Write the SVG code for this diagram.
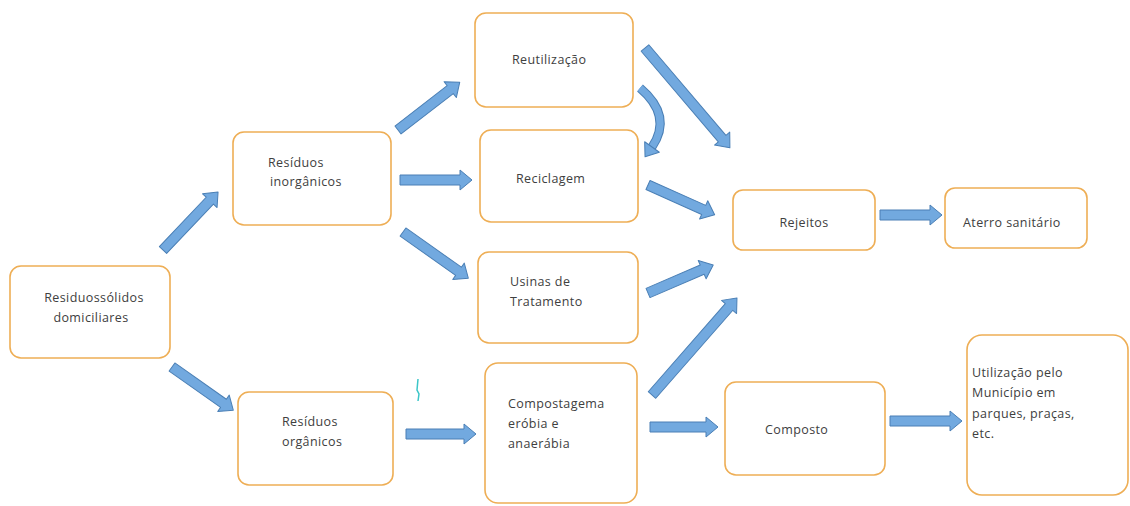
<svg xmlns="http://www.w3.org/2000/svg" width="1130" height="506" viewBox="0 0 1130 506">
  <style>
    .box { fill: #ffffff; stroke: #eeae55; stroke-width: 1.6; }
    .lbl { font-family: "Open Sans", "Liberation Sans", sans-serif; font-size: 12.5px; letter-spacing: 0.4px; fill: #404040; }
    .mid { text-anchor: middle; }
    .arr { fill: #72a9df; stroke: #4a7fb5; stroke-width: 1; stroke-linejoin: round; }
  </style>
  <rect width="1130" height="506" fill="#ffffff"/>

  <g id="n-domiciliares">
    <rect class="box" x="10" y="266" width="160" height="92" rx="11"/>
    <text class="lbl mid" x="94" y="302">Residuossólidos</text>
    <text class="lbl mid" x="91" y="322">domiciliares</text>
  </g>
  <g id="n-inorganicos">
    <rect class="box" x="233" y="132" width="158" height="93" rx="11"/>
    <text class="lbl" x="268" y="167">Resíduos</text>
    <text class="lbl" x="270" y="186">inorgânicos</text>
  </g>
  <g id="n-reutilizacao">
    <rect class="box" x="475" y="13" width="158" height="94" rx="11"/>
    <text class="lbl" x="512" y="64">Reutilização</text>
  </g>
  <g id="n-reciclagem">
    <rect class="box" x="480" y="130" width="158" height="92" rx="11"/>
    <text class="lbl" x="516" y="183">Reciclagem</text>
  </g>
  <g id="n-usinas">
    <rect class="box" x="478" y="252" width="160" height="91" rx="11"/>
    <text class="lbl" x="510" y="286">Usinas de</text>
    <text class="lbl" x="510" y="306">Tratamento</text>
  </g>
  <g id="n-organicos">
    <rect class="box" x="238" y="392" width="155" height="93" rx="11"/>
    <text class="lbl" x="282" y="426">Resíduos</text>
    <text class="lbl" x="282" y="446">orgânicos</text>
  </g>
  <g id="n-compostagem">
    <rect class="box" x="485" y="363" width="152" height="140" rx="13"/>
    <text class="lbl" x="508" y="408">Compostagema</text>
    <text class="lbl" x="508" y="428">eróbia e</text>
    <text class="lbl" x="508" y="448">anaerábia</text>
  </g>
  <g id="n-rejeitos">
    <rect class="box" x="733" y="190" width="142" height="60" rx="10"/>
    <text class="lbl mid" x="804" y="227">Rejeitos</text>
  </g>
  <g id="n-aterro">
    <rect class="box" x="945" y="188" width="142" height="60" rx="10"/>
    <text class="lbl" x="963" y="227">Aterro sanitário</text>
  </g>
  <g id="n-composto">
    <rect class="box" x="725" y="382" width="160" height="93" rx="11"/>
    <text class="lbl" x="765" y="434">Composto</text>
  </g>
  <g id="n-utilizacao">
    <rect class="box" x="967" y="335" width="161" height="160" rx="15"/>
    <text class="lbl" x="972" y="377">Utilização pelo</text>
    <text class="lbl" x="972" y="397">Município em</text>
    <text class="lbl" x="972" y="418">parques, praças,</text>
    <text class="lbl" x="972" y="438">etc.</text>
  </g>

  <g id="connectors">
    <!-- block arrows: shaft 10 wide, head 20 wide and 12 long, drawn along +x then placed -->
    <path class="arr" transform="translate(163,250) rotate(-46.5)" d="M0,-5 H68 V-10 L80,0 L68,10 V5 H0 Z"/>
    <path class="arr" transform="translate(172,367) rotate(35.2)" d="M0,-5 H63 V-10 L75,0 L63,10 V5 H0 Z"/>
    <path class="arr" transform="translate(398,130) rotate(-37.7)" d="M0,-5 H66 V-10 L78,0 L66,10 V5 H0 Z"/>
    <path class="arr" transform="translate(400,180)" d="M0,-5 H60 V-10 L72,0 L60,10 V5 H0 Z"/>
    <path class="arr" transform="translate(403,232) rotate(35.3)" d="M0,-5 H68 V-10 L80,0 L68,10 V5 H0 Z"/>
    <path class="arr" transform="translate(645,48) rotate(49.6)" d="M0,-5 H119 V-10 L131,0 L119,10 V5 H0 Z"/>
    <path class="arr" transform="translate(648,185) rotate(24.1)" d="M0,-5 H61 V-10 L73,0 L61,10 V5 H0 Z"/>
    <path class="arr" transform="translate(648,293) rotate(-23.3)" d="M0,-5 H59 V-10 L71,0 L59,10 V5 H0 Z"/>
    <path class="arr" transform="translate(652,395) rotate(-48.8)" d="M0,-5 H117 V-10 L129,0 L117,10 V5 H0 Z"/>
    <path class="arr" transform="translate(880,215)" d="M0,-5 H50 V-10 L62,0 L50,10 V5 H0 Z"/>
    <path class="arr" transform="translate(406,434)" d="M0,-5 H58 V-10 L70,0 L58,10 V5 H0 Z"/>
    <path class="arr" transform="translate(650,427)" d="M0,-5 H56 V-10 L68,0 L56,10 V5 H0 Z"/>
    <path class="arr" transform="translate(890,421)" d="M0,-5 H60 V-10 L72,0 L60,10 V5 H0 Z"/>
    <!-- curved arrow from Reutilização down to Reciclagem -->
    <path d="M640,88 Q673,116 652,147" fill="none" stroke="#4a7fb5" stroke-width="9" stroke-linecap="butt"/>
    <path d="M640,88 Q673,116 652,147" fill="none" stroke="#72a9df" stroke-width="7" stroke-linecap="butt"/>
    <path class="arr" transform="translate(652,147) rotate(125.5)" d="M0,-9 L12,0 L0,9 Z"/>
    <!-- small cyan stroke -->
    <path d="M418,379 L417,390 L419,394 L418,401" fill="none" stroke="#3cc6c8" stroke-width="1.5"/>
  </g>
</svg>
